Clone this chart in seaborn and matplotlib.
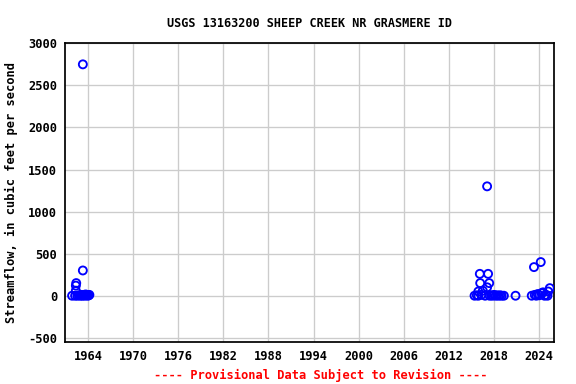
import matplotlib
matplotlib.use("Agg")
import matplotlib.pyplot as plt
import seaborn as sns
import pandas as pd

# --- data (decimal year, streamflow cfs) ---
years_early = [1961.9, 1962.3, 1962.4, 1962.4, 1962.45, 1962.6, 1962.8, 1963.0,
               1963.1, 1963.25, 1963.33, 1963.33, 1963.4, 1963.5, 1963.6, 1963.7,
               1963.8, 1963.9, 1964.0, 1964.1, 1964.2]
flow_early = [0, 0, 60, 120, 150, 0, 5, 0,
              10, 0, 300, 2750, 5, 10, 0, 15,
              5, 10, 0, 5, 10]
years_recent = [2015.4, 2015.7, 2015.9, 2015.9, 2016.1, 2016.15, 2016.3, 2016.5,
                2016.8, 2017.07, 2017.07, 2017.2, 2017.35, 2017.4, 2017.6, 2017.8,
                2018.0, 2018.2, 2018.4, 2018.6, 2018.8, 2019.0, 2019.3, 2020.85,
                2023.0, 2023.3, 2023.4, 2023.6, 2023.8, 2024.0, 2024.2, 2024.3,
                2024.5, 2024.7, 2024.9, 2025.1, 2025.2, 2025.4]
flow_recent = [0, 5, 50, 0, 260, 150, 10, 60,
               0, 1300, 100, 260, 150, 0, 5, 0,
               10, 0, 5, 0, 5, 0, 0, 0,
               0, 340, 10, 0, 20, 5, 400, 30,
               40, 0, 10, 0, 50, 90]

x_ticks = [1964, 1970, 1976, 1982, 1988, 1994, 2000, 2006, 2012, 2018, 2024]
y_ticks = [-500, 0, 500, 1000, 1500, 2000, 2500, 3000]

title = "USGS 13163200 SHEEP CREEK NR GRASMERE ID"
ylabel = "Streamflow, in cubic feet per second"
footer = "---- Provisional Data Subject to Revision ----"

df = pd.DataFrame({"year": years_early + years_recent,
                   "flow": flow_early + flow_recent})

sns.set_style("white")
plt.rcParams["font.family"] = ["DejaVu Sans Mono"]
plt.rcParams["font.weight"] = "bold"
plt.rcParams["text.color"] = "black"
plt.rcParams["axes.labelcolor"] = "black"
plt.rcParams["xtick.color"] = "black"
plt.rcParams["ytick.color"] = "black"

fig = plt.figure(figsize=(6, 4), dpi=96)
ax = fig.add_axes([0.1134, 0.1094, 0.9623 - 0.1134, 0.8872 - 0.1094])

ax.grid(True, color="#cccccc", linewidth=1.0)
ax.set_axisbelow(True)

sns.scatterplot(data=df, x="year", y="flow", ax=ax, marker="o",
                facecolor="none", edgecolor="#0000ff", linewidth=1.4,
                s=36, zorder=3)

ax.set_xlim(1961.0, 2026.0)
ax.set_ylim(-550, 3000)
ax.set_xticks(x_ticks)
ax.set_yticks(y_ticks)
ax.set_xticklabels([str(t) for t in x_ticks], fontsize=9, fontweight="bold", color="black")
ax.set_yticklabels([str(t) for t in y_ticks], fontsize=9, fontweight="bold", color="black")
ax.tick_params(axis="both", length=0, pad=6)

for sp in ax.spines.values():
    sp.set_color("black")
    sp.set_linewidth(1.3)

ax.set_xlabel("")
ax.set_ylabel(ylabel, fontsize=9, fontweight="bold", labelpad=8, color="black")
ax.set_title(title, fontsize=8.8, fontweight="bold", pad=12, color="black")

fig.text(0.5574, 1 - 375 / 384, footer, color="red", fontsize=9,
         fontweight="bold", ha="center", va="center")

fig.savefig("out.png", dpi=96)
